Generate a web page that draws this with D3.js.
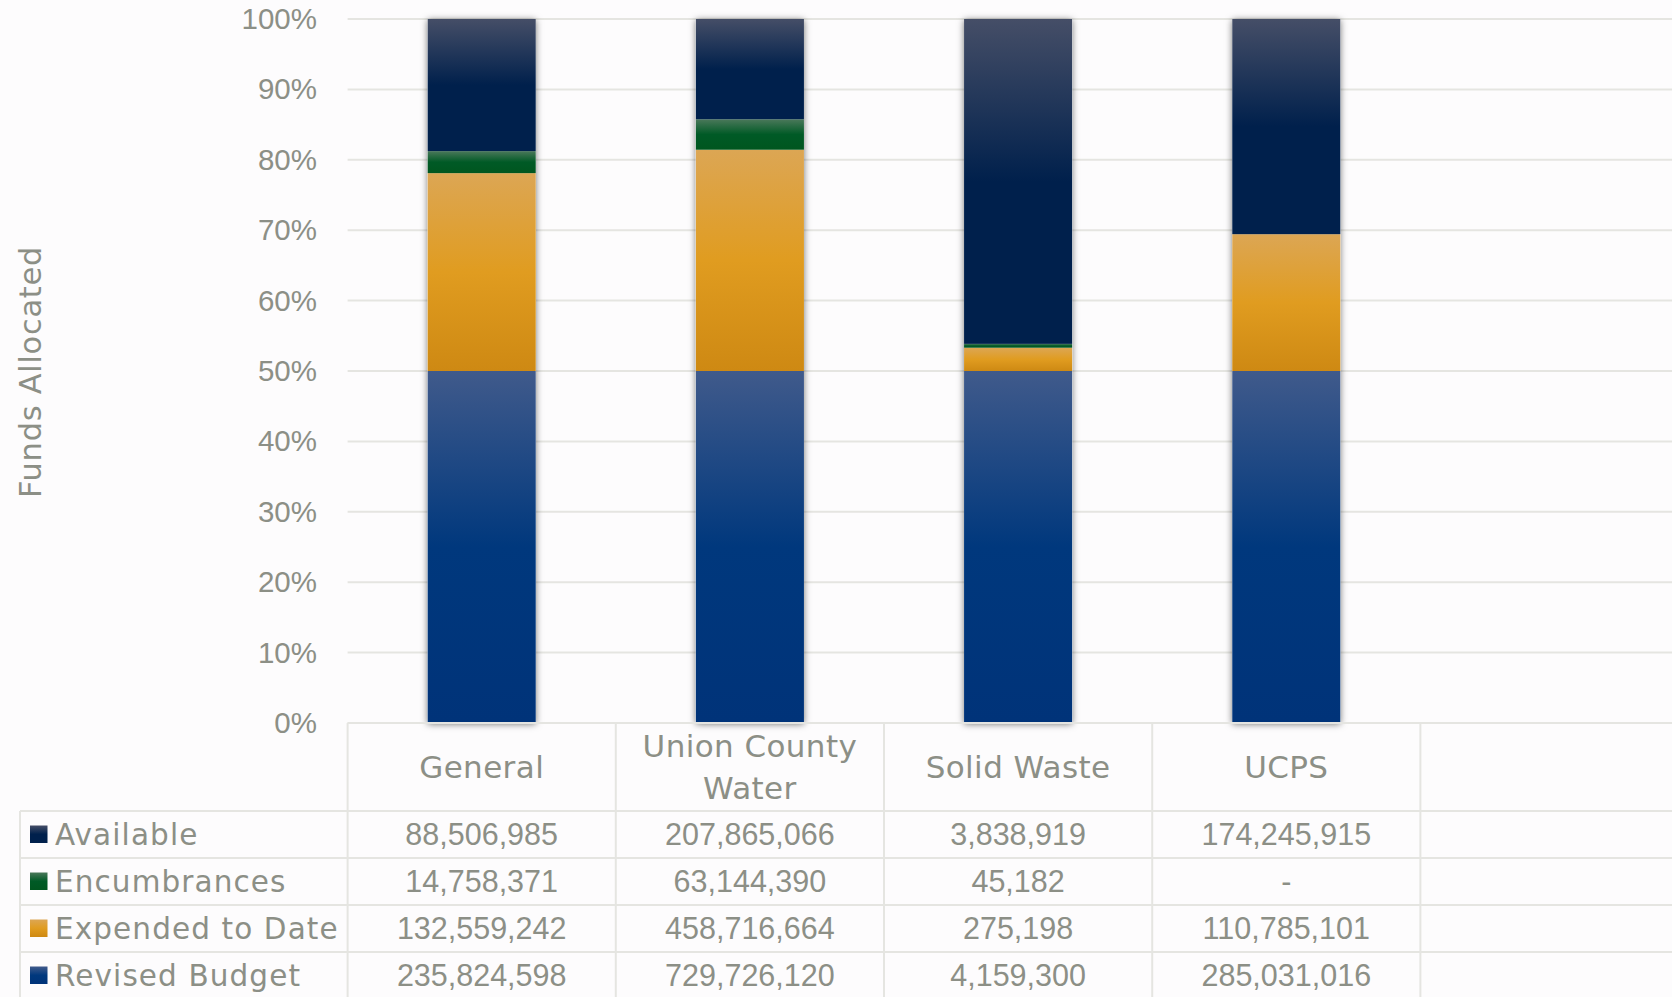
<!DOCTYPE html>
<html>
<head>
<meta charset="utf-8">
<title>Funds Allocated</title>
<script src="https://d3js.org/d3.v7.min.js"></script>
<style>
  body { margin: 0; background: #fdfcfd; }
  svg { display: block; }
  .num { font-family: 'Liberation Sans', Arial, sans-serif; fill: #8c8f86; }
  .lbl { font-family: 'DejaVu Sans', sans-serif; fill: #8c8f86; }
</style>
</head>
<body>
<svg id="canvas" width="1672" height="997"></svg>
<script>
// data
const categories = ['General', 'Union County\nWater', 'Solid Waste', 'UCPS']
const seriesNames = ['Revised Budget', 'Expended to Date', 'Encumbrances', 'Available']
const revisedBudget = [235824598, 729726120, 4159300, 285031016]
const expendedToDate = [132559242, 458716664, 275198, 110785101]
const encumbrances = [14758371, 63144390, 45182, 0]
const available = [88506985, 207865066, 3838919, 174245915]
const yTicks = [0, .1, .2, .3, .4, .5, .6, .7, .8, .9, 1]

// gradient stops per series (light top -> base -> darker bottom)
const colors = {
  'Revised Budget': ['#405a8b', '#00387d', '#003379'],
  'Expended to Date': ['#dca654', '#e09c20', '#ce8913'],
  'Encumbrances': ['#4a785a', '#005a26', '#00561f'],
  'Available': ['#454e67', '#00204c', '#00204c']
}

const rows = categories.map((c, i) => ({
  cat: c,
  'Revised Budget': revisedBudget[i],
  'Expended to Date': expendedToDate[i],
  'Encumbrances': encumbrances[i],
  'Available': available[i]
}))

const svg = d3.select('#canvas')
const textColor = '#8c8f86'
const lineColor = '#e5e5e1'

const plotLeft = 347.6
const step = 268.2
const yTop = 19, yBottom = 723
const rowH = 47, headerBottom = 811

const x = d3.scaleBand()
  .domain(categories.concat(['']))
  .range([plotLeft, plotLeft + step * 5])
  .padding(0)
const barW = x.bandwidth() * 0.403
const y = d3.scaleLinear().domain([0, 1]).range([yBottom, yTop])

// defs: gradients + bar shadow
const defs = svg.append('defs')
seriesNames.forEach((s, i) => {
  const g = defs.append('linearGradient')
    .attr('id', 'grad' + i)
    .attr('x1', 0).attr('y1', 0).attr('x2', 0).attr('y2', 1)
  g.append('stop').attr('offset', 0).attr('stop-color', colors[s][0])
  g.append('stop').attr('offset', .5).attr('stop-color', colors[s][1])
  g.append('stop').attr('offset', 1).attr('stop-color', colors[s][2])
})
const f = defs.append('filter').attr('id', 'shadow')
  .attr('x', '-20%').attr('y', '-5%').attr('width', '140%').attr('height', '110%')
f.append('feDropShadow').attr('dx', 0).attr('dy', 1).attr('stdDeviation', 3.5)
  .attr('flood-color', '#000').attr('flood-opacity', .55)

// gridlines
svg.append('g').selectAll('line')
  .data(yTicks)
  .join('line')
  .attr('x1', plotLeft).attr('x2', 1672)
  .attr('y1', d => y(d)).attr('y2', d => y(d))
  .attr('stroke', lineColor).attr('stroke-width', 2)

// y axis labels
const yAxis = d3.axisLeft(y).tickValues(yTicks).tickFormat(d3.format('.0%')).tickSize(0).tickPadding(0)
svg.append('g')
  .attr('transform', 'translate(317,0)')
  .call(yAxis)
  .call(g => g.select('.domain').remove())
  .call(g => g.selectAll('text')
    .attr('class', 'num')
    .attr('fill', textColor)
    .style('font-size', '29.5px'))

svg.append('text')
  .attr('class', 'lbl')
  .attr('transform', 'translate(41,372) rotate(-90)')
  .attr('text-anchor', 'middle')
  .style('font-size', '30.5px')
  .style('letter-spacing', '0.7px')
  .text('Funds Allocated')

// stacked bars
const stacked = d3.stack().keys(seriesNames).offset(d3.stackOffsetExpand)(rows)
const barG = svg.append('g')
barG.selectAll('rect.shadow')
  .data(rows)
  .join('rect')
  .attr('class', 'shadow')
  .attr('x', d => x(d.cat) + (x.bandwidth() - barW) / 2)
  .attr('y', y(1))
  .attr('width', barW)
  .attr('height', y(0) - y(1))
  .attr('fill', '#fff')
  .attr('filter', 'url(#shadow)')

stacked.forEach((layer, si) => {
  barG.append('g').selectAll('rect')
    .data(layer)
    .join('rect')
    .attr('x', d => x(d.data.cat) + (x.bandwidth() - barW) / 2)
    .attr('y', d => y(d[1]))
    .attr('width', barW)
    .attr('height', d => y(d[0]) - y(d[1]))
    .attr('fill', `url(#grad${si})`)
})

// data table
const table = svg.append('g')
const tableRows = ['Available', 'Encumbrances', 'Expended to Date', 'Revised Budget']
const seriesValues = {
  'Available': available,
  'Encumbrances': encumbrances,
  'Expended to Date': expendedToDate,
  'Revised Budget': revisedBudget
}
const fmt = v => v === 0 ? '-' : d3.format(',')(v)

// vertical lines of the category columns
table.selectAll('line.v')
  .data(x.domain().concat(['end']))
  .join('line')
  .attr('class', 'v')
  .attr('x1', (d, i) => plotLeft + i * step).attr('x2', (d, i) => plotLeft + i * step)
  .attr('y1', yBottom).attr('y2', 997)
  .attr('stroke', lineColor).attr('stroke-width', 2)
// legend column left edge
table.append('line')
  .attr('x1', 20).attr('x2', 20).attr('y1', headerBottom).attr('y2', 997)
  .attr('stroke', lineColor).attr('stroke-width', 2)
// horizontal lines
table.selectAll('line.h')
  .data(d3.range(5))
  .join('line')
  .attr('class', 'h')
  .attr('x1', 20).attr('x2', 1672)
  .attr('y1', i => headerBottom + i * rowH).attr('y2', i => headerBottom + i * rowH)
  .attr('stroke', lineColor).attr('stroke-width', 2)
// axis line under bars
table.append('line')
  .attr('x1', plotLeft).attr('x2', 1672).attr('y1', yBottom).attr('y2', yBottom)
  .attr('stroke', lineColor).attr('stroke-width', 2)

// category headers
categories.forEach(c => {
  const lines = c.split('\n')
  const cx = x(c) + x.bandwidth() / 2
  const cy = (yBottom + headerBottom) / 2
  const lh = 41.5
  const t = table.append('text')
    .attr('class', 'lbl')
    .attr('text-anchor', 'middle')
    .style('font-size', '31px')
    .style('letter-spacing', '0.4px')
  lines.forEach((l, li) => {
    t.append('tspan')
      .attr('x', cx)
      .attr('y', cy + (li - (lines.length - 1) / 2) * lh)
      .attr('dy', '0.36em')
      .text(l)
  })
})

// table rows
tableRows.forEach((s, ri) => {
  const cy = headerBottom + ri * rowH + rowH / 2
  const si = seriesNames.indexOf(s)
  table.append('rect')
    .attr('x', 30).attr('y', cy - 9)
    .attr('width', 17.5).attr('height', 17.5)
    .attr('fill', `url(#grad${si})`)
  table.append('text')
    .attr('class', 'lbl')
    .attr('x', 55).attr('y', cy).attr('dy', '0.36em')
    .style('font-size', '29.5px')
    .style('letter-spacing', '1.1px')
    .text(s)
  table.append('g').selectAll('text')
    .data(seriesValues[s])
    .join('text')
    .attr('class', 'num')
    .attr('text-anchor', 'middle')
    .attr('x', (d, i) => x(categories[i]) + x.bandwidth() / 2)
    .attr('y', cy).attr('dy', '0.36em')
    .style('font-size', '30.5px')
    .text(d => fmt(d))
})
</script>
</body>
</html>
